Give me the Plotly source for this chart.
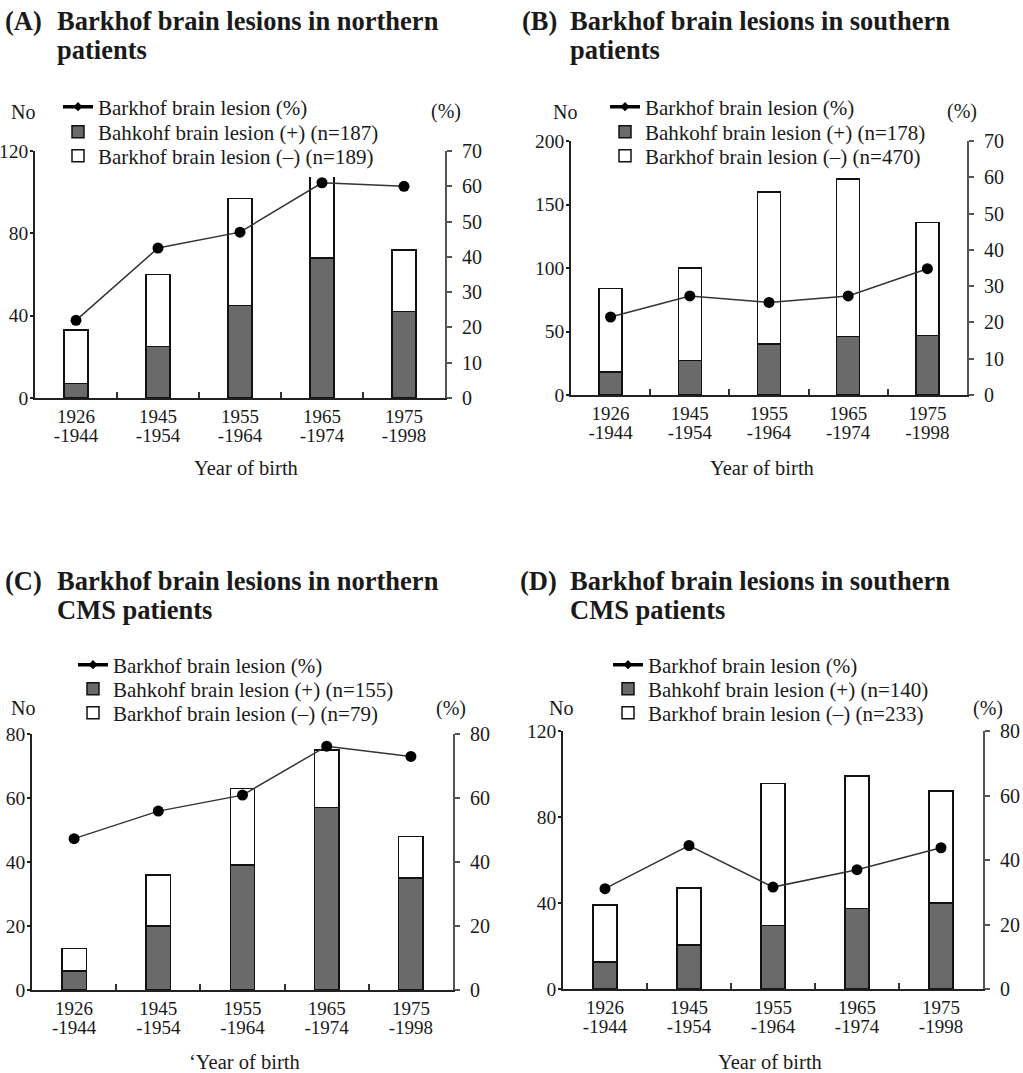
import plotly.graph_objects as go

W, H = 1023, 1073

years_top = ["1926", "1945", "1955", "1965", "1975"]
years_bottom = ["-1944", "-1954", "-1964", "-1974", "-1998"]

# Panel A: northern patients
A_pos = [7, 25, 45, 68, 42]
A_neg = [26, 35, 52, 47, 30]
A_pct = [22, 42.5, 47, 61, 60]
# Panel B: southern patients
B_pos = [18, 27, 40, 46, 47]
B_neg = [66, 73, 120, 124, 89]
B_pct = [21.5, 27.3, 25.5, 27.3, 34.8]
# Panel C: northern CMS patients
C_pos = [6, 20, 39, 57, 35]
C_neg = [7, 16, 24, 18, 13]
C_pct = [47.3, 55.9, 60.9, 76.2, 73.0]
# Panel D: southern CMS patients
D_pos = [12.5, 20.5, 29.6, 37.4, 40]
D_neg = [26.5, 26.5, 65.9, 61.6, 52]
D_pct = [31.1, 44.5, 31.6, 37.0, 43.8]

titles = ["Barkhof brain lesions in northern", "Barkhof brain lesions in southern",
          "Barkhof brain lesions in northern", "Barkhof brain lesions in southern"]
titles2 = ["patients", "patients", "CMS patients", "CMS patients"]
letters = ["(A)", "(B)", "(C)", "(D)"]
n_pos = [187, 178, 155, 140]
n_neg = [189, 470, 79, 233]
left_ticks = [[0, 40, 80, 120], [0, 50, 100, 150, 200], [0, 20, 40, 60, 80], [0, 40, 80, 120]]
right_ticks = [[0, 10, 20, 30, 40, 50, 60, 70], [0, 10, 20, 30, 40, 50, 60, 70],
               [0, 20, 40, 60, 80], [0, 20, 40, 60, 80]]
xlabel = ["Year of birth", "Year of birth", "\u02bbYear of birth", "Year of birth"]

panels = [
    dict(pos=A_pos, neg=A_neg, pct=A_pct, L=35, R=445, T=151, B=398, text_x=100, leg_y=[107, 132, 156],
         title_x=(44, 55), title_y=(21, 50), no=(23, 112), pc=(446, 112), xl=(246, 468)),
    dict(pos=B_pos, neg=B_neg, pct=B_pct, L=571, R=967, T=141, B=395, text_x=647, leg_y=[107, 132, 156],
         title_x=(559, 568), title_y=(21, 50), no=(565, 112), pc=(962, 112), xl=(762, 468)),
    dict(pos=C_pos, neg=C_neg, pct=C_pct, L=32, R=453, T=734, B=990, text_x=115, leg_y=[665, 689, 713],
         title_x=(44, 55), title_y=(581, 610), no=(23, 708), pc=(451, 708), xl=(244, 1062)),
    dict(pos=D_pos, neg=D_neg, pct=D_pct, L=563, R=983, T=731, B=989, text_x=650, leg_y=[665, 689, 713],
         title_x=(559, 568), title_y=(581, 610), no=(561, 708), pc=(988, 708), xl=(770, 1062)),
]

FONT = "Liberation Serif, Times New Roman, serif"
TXT = "#1a1a1a"
GRAY = "#6a6a6a"


def px(x):
    return x / W


def py(y):
    return 1 - y / H


fig = go.Figure()
layout = dict(width=W, height=H, margin=dict(l=0, r=0, t=0, b=0, pad=0, autoexpand=False),
              paper_bgcolor="white", plot_bgcolor="rgba(0,0,0,0)", barmode="stack",
              font=dict(family=FONT, color=TXT), showlegend=True, annotations=[])

idx = list(range(len(years_top)))
leg_count = 0


def nm(prefix, k):
    return prefix if k == 1 else f"{prefix}{k}"


for i, p in enumerate(panels):
    xb = 2 * i + 1   # bar x axis (boundary ticks + first label line)
    xl2 = xb + 1     # overlay x axis (second label line)
    yl = 2 * i + 1
    yr = yl + 1
    xref, x2ref, yref, yrref = nm("x", xb), nm("x", xl2), nm("y", yl), nm("y", yr)
    xdom = [px(p["L"]), px(p["R"])]
    ydom = [py(p["B"]), py(p["T"])]
    rng = [-0.5, len(idx) - 0.5]

    # one legend per entry so the spacing can follow the reference;
    # the white-bar entry is drawn before the grey one so its white box never hides text
    legs = {}
    for key, j in (("line", 0), ("neg", 2), ("pos", 1)):
        leg_count += 1
        name = "legend" if leg_count == 1 else f"legend{leg_count}"
        legs[key] = name
        layout[name] = dict(x=px(p["text_x"] - 42), xanchor="left", y=py(p["leg_y"][j]),
                            yanchor="middle",
                            bgcolor="white" if key == "neg" else "rgba(0,0,0,0)",
                            borderwidth=0, font=dict(family=FONT, size=21, color=TXT),
                            traceorder="normal")

    # data
    fig.add_trace(go.Bar(x=idx, y=p["pos"], width=0.29, xaxis=xref, yaxis=yref,
                         marker=dict(color=GRAY, line=dict(color="#111", width=1.5)),
                         showlegend=False, hoverinfo="skip"))
    fig.add_trace(go.Bar(x=idx, y=p["neg"], width=0.29, xaxis=xref, yaxis=yref,
                         marker=dict(color="white", line=dict(color="#111", width=1.5)),
                         showlegend=False, hoverinfo="skip"))
    fig.add_trace(go.Scatter(x=idx, y=p["pct"], xaxis=xref, yaxis=yrref, mode="lines+markers",
                             line=dict(color="#333", width=1.5),
                             marker=dict(color="#000", size=11, symbol="circle"),
                             showlegend=False, hoverinfo="skip"))
    # empty trace that puts the overlay axis for the second label line on the page
    fig.add_trace(go.Scatter(x=idx, y=[None] * len(idx), xaxis=x2ref, yaxis=yref, mode="markers",
                             showlegend=False, hoverinfo="skip"))

    # legend entries
    fig.add_trace(go.Scatter(x=[None], y=[None], xaxis=xref, yaxis=yrref, mode="lines+markers",
                             line=dict(color="#000", width=3.5),
                             marker=dict(color="#000", size=7, symbol="diamond"),
                             name="Barkhof brain lesion (%)", legend=legs["line"]))
    fig.add_trace(go.Bar(x=[None], y=[None], xaxis=xref, yaxis=yref,
                         marker=dict(color="white", line=dict(color="#111", width=1.5)),
                         name=f"Barkhof brain lesion (\u2013) (n={n_neg[i]})", legend=legs["neg"]))
    fig.add_trace(go.Bar(x=[None], y=[None], xaxis=xref, yaxis=yref,
                         marker=dict(color=GRAY, line=dict(color="#111", width=1.5)),
                         name=f"Bahkohf brain lesion (+) (n={n_pos[i]})", legend=legs["pos"]))

    lt = left_ticks[i]
    rt = right_ticks[i]
    layout[nm("xaxis", xb)] = dict(domain=xdom, anchor=yref, range=rng, tickmode="array",
                                   tickvals=idx, ticktext=years_top, ticks="inside", ticklen=1,
                                   tickcolor="rgba(0,0,0,0)",
                                   minor=dict(tickmode="array", tickvals=[k + 0.5 for k in idx[:-1]],
                                              ticks="inside", ticklen=6, tickcolor="#333",
                                              tickwidth=1.5, showgrid=False),
                                   tickfont=dict(family=FONT, size=19, color=TXT),
                                   showline=True, linecolor="#222", linewidth=1.5,
                                   showgrid=False, zeroline=False, fixedrange=True)
    layout[nm("xaxis", xl2)] = dict(overlaying=xref, anchor=yref, range=rng, tickmode="array",
                                    tickvals=idx, ticktext=years_bottom, ticks="", showline=False,
                                    showgrid=False, zeroline=False, side="bottom",
                                    tickfont=dict(family=FONT, size=19, color=TXT),
                                    ticklabelstandoff=24)
    layout[nm("yaxis", yl)] = dict(domain=ydom, anchor=xref, range=[0, lt[-1]], tickmode="array",
                                   tickvals=lt, ticks="outside", ticklen=3, tickcolor="#222",
                                   tickwidth=1.5, showline=True, linecolor="#222", linewidth=1.5,
                                   showgrid=False, zeroline=False, ticklabelstandoff=-2,
                                   tickfont=dict(family=FONT, size=19.5, color=TXT))
    layout[nm("yaxis", yr)] = dict(overlaying=yref, anchor=xref, side="right", range=[0, rt[-1]],
                                   tickmode="array", tickvals=rt, ticks="outside", ticklen=5,
                                   tickcolor="#555", tickwidth=1.5, showline=True, linecolor="#555",
                                   linewidth=1.8, showgrid=False, zeroline=False,
                                   tickfont=dict(family=FONT, size=20, color=TXT),
                                   ticklabelstandoff=6)

    ann = layout["annotations"]
    ann.append(dict(text=f"<b>{letters[i]}</b>", x=px(p["title_x"][0]), y=py(p["title_y"][0]),
                    xref="paper", yref="paper", xanchor="right", yanchor="middle", showarrow=False,
                    font=dict(family=FONT, size=26.5, color=TXT)))
    ann.append(dict(text=f"<b>{titles[i]}</b>", x=px(p["title_x"][1]), y=py(p["title_y"][0]),
                    xref="paper", yref="paper", xanchor="left", yanchor="middle", showarrow=False,
                    font=dict(family=FONT, size=26.5, color=TXT)))
    ann.append(dict(text=f"<b>{titles2[i]}</b>", x=px(p["title_x"][1]), y=py(p["title_y"][1]),
                    xref="paper", yref="paper", xanchor="left", yanchor="middle", showarrow=False,
                    font=dict(family=FONT, size=26.5, color=TXT)))
    ann.append(dict(text="No", x=px(p["no"][0]), y=py(p["no"][1]), xref="paper", yref="paper",
                    xanchor="center", yanchor="middle", showarrow=False,
                    font=dict(family=FONT, size=20, color=TXT)))
    ann.append(dict(text="(%)", x=px(p["pc"][0]), y=py(p["pc"][1]), xref="paper", yref="paper",
                    xanchor="center", yanchor="middle", showarrow=False,
                    font=dict(family=FONT, size=20, color=TXT)))
    ann.append(dict(text=xlabel[i], x=px(p["xl"][0]), y=py(p["xl"][1]), xref="paper", yref="paper",
                    xanchor="center", yanchor="middle", showarrow=False,
                    font=dict(family=FONT, size=20.5, color=TXT)))

fig.update_layout(**layout)
# remove the browser's default 8px page margin so the figure fills the window exactly
fig.write_html("out.html", config={"displayModeBar": False},
               post_script="document.body.style.margin='0';")
